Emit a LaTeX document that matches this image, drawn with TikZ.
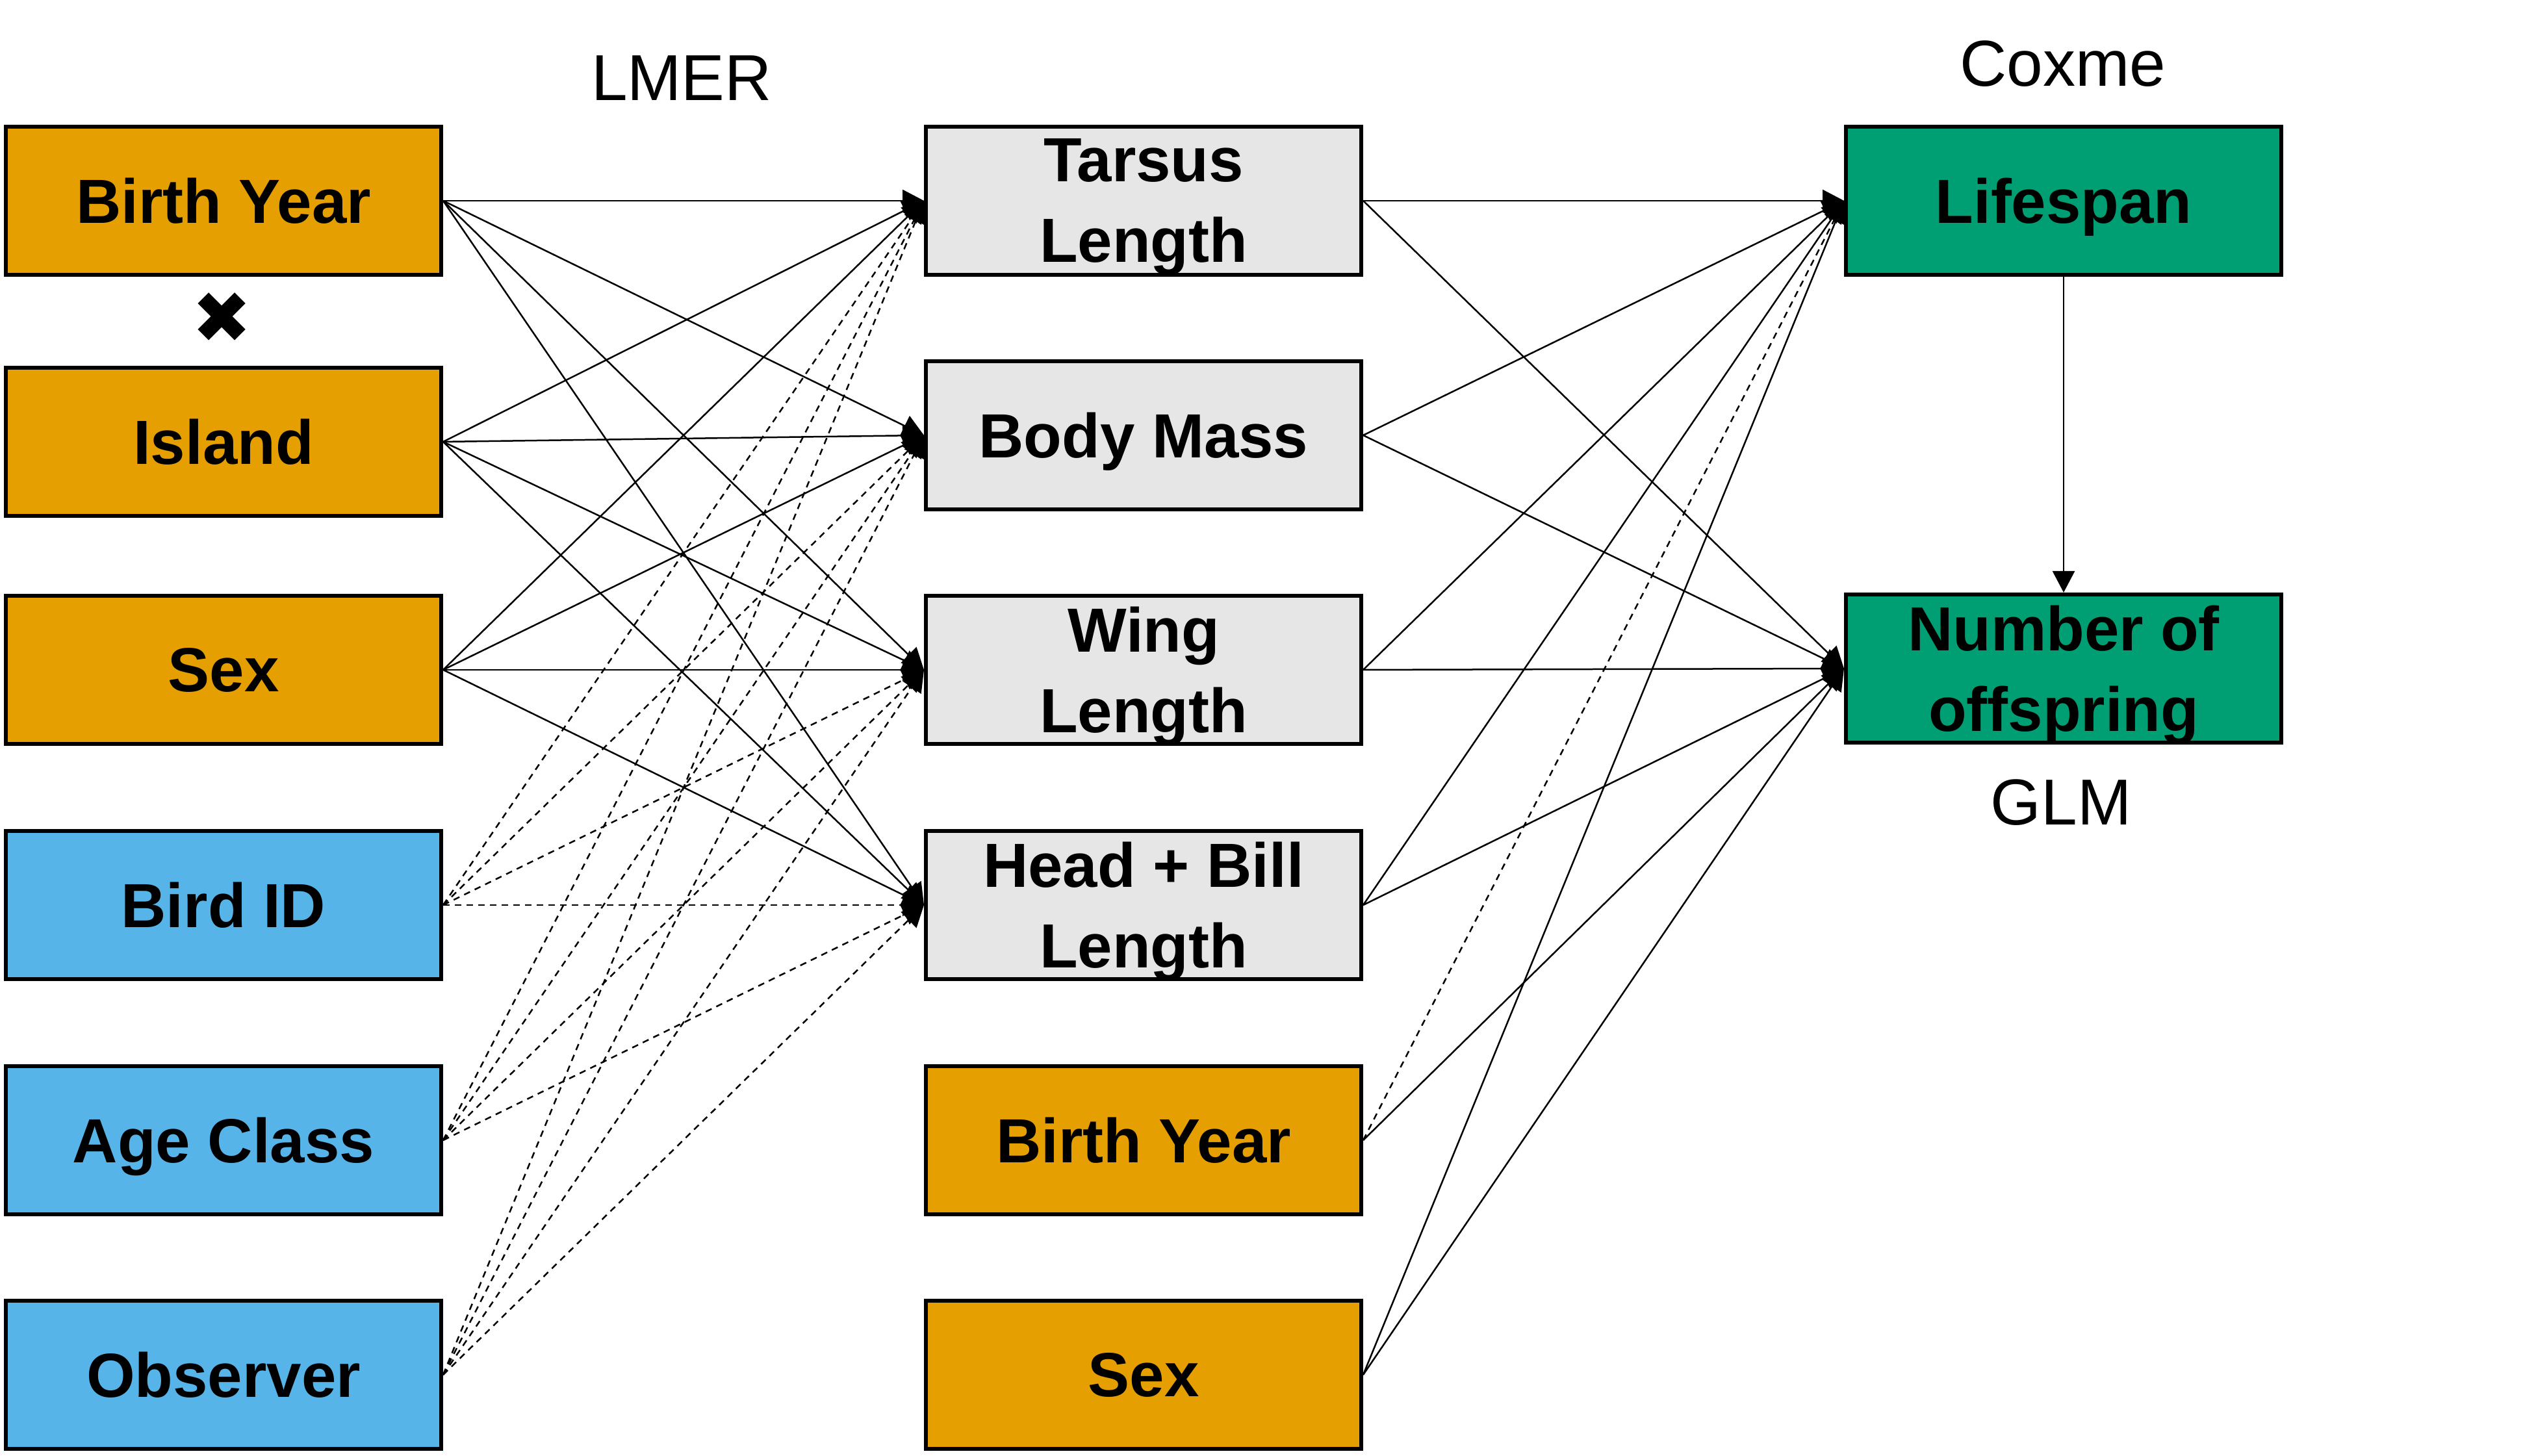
\documentclass[tikz,border=0pt]{standalone}
\usepackage{fontspec}
\setmainfont{Liberation Sans}
\newfontfamily\markfont{DejaVu Sans}
\usetikzlibrary{arrows.meta}

\begin{document}
\begin{tikzpicture}[x=1pt,y=1pt,
  box/.style={draw=drawColor,line width=0.6pt,minimum width=67pt,minimum height=22.8pt,
    inner sep=0pt,align=center,text depth=0pt,text=drawColor,
    font=\bfseries\fontsize{9.6}{12.4}\selectfont},
  model/.style={text=drawColor,anchor=base,inner sep=0pt,outer sep=0pt,
    font=\fontsize{10}{12}\selectfont},
  link/.style={draw=drawColor,line width=0.25pt,-{Triangle[length=3.3pt,width=3.4pt]}},
  randlink/.style={link,dash pattern=on 1pt off 0.8pt}]
\definecolor{drawColor}{RGB}{0,0,0}
\definecolor{fixedColor}{RGB}{230,159,0}
\definecolor{randomColor}{RGB}{86,180,233}
\definecolor{traitColor}{RGB}{230,230,230}
\definecolor{fitnessColor}{RGB}{0,158,115}
\path[use as bounding box,fill=white] (0,0) rectangle (388.30,224.10);

% left column: fixed and random effects
\node[box,fill=fixedColor] (birthyear) at ( 34.40,193.20) {Birth Year};
\node[box,fill=fixedColor] (island) at ( 34.40,156.10) {Island};
\node[box,fill=fixedColor] (sex) at ( 34.40,121.00) {Sex};
\node[box,fill=randomColor] (birdid) at ( 34.40, 84.80) {Bird ID};
\node[box,fill=randomColor] (ageclass) at ( 34.40, 48.60) {Age Class};
\node[box,fill=randomColor] (observer) at ( 34.40, 12.50) {Observer};
\node[text=drawColor,inner sep=0pt,font=\markfont\fontsize{11}{13}\selectfont] (cross) at ( 34.20,175.20) {✖};

% middle column: traits
\node[box,fill=traitColor] (tarsus) at (176.00,193.20) {Tarsus\\Length};
\node[box,fill=traitColor] (mass) at (176.00,157.10) {Body Mass};
\node[box,fill=traitColor] (wing) at (176.00,121.00) {Wing\\Length};
\node[box,fill=traitColor] (bill) at (176.00, 84.80) {Head + Bill\\Length};
\node[box,fill=fixedColor] (birthyear2) at (176.00, 48.60) {Birth Year};
\node[box,fill=fixedColor] (sex2) at (176.00, 12.50) {Sex};

% right column: fitness
\node[box,fill=fitnessColor] (lifespan) at (317.60,193.20) {Lifespan};
\node[box,fill=fitnessColor] (offspring) at (317.60,121.20) {Number of\\offspring};

\node[model] (lmer) at (104.90,208.60) {LMER};
\node[model] (coxme) at (317.50,210.80) {Coxme};
\node[model] (glm) at (317.20, 97.10) {GLM};

% LMER
\path[link] (birthyear.east) -- (tarsus.west);
\path[link] (birthyear.east) -- (mass.west);
\path[link] (birthyear.east) -- (wing.west);
\path[link] (birthyear.east) -- (bill.west);

\path[link] (island.east) -- (tarsus.west);
\path[link] (island.east) -- (mass.west);
\path[link] (island.east) -- (wing.west);
\path[link] (island.east) -- (bill.west);

\path[link] (sex.east) -- (tarsus.west);
\path[link] (sex.east) -- (mass.west);
\path[link] (sex.east) -- (wing.west);
\path[link] (sex.east) -- (bill.west);

\path[randlink] (birdid.east) -- (tarsus.west);
\path[randlink] (birdid.east) -- (mass.west);
\path[randlink] (birdid.east) -- (wing.west);
\path[randlink] (birdid.east) -- (bill.west);

\path[randlink] (ageclass.east) -- (tarsus.west);
\path[randlink] (ageclass.east) -- (mass.west);
\path[randlink] (ageclass.east) -- (wing.west);
\path[randlink] (ageclass.east) -- (bill.west);

\path[randlink] (observer.east) -- (tarsus.west);
\path[randlink] (observer.east) -- (mass.west);
\path[randlink] (observer.east) -- (wing.west);
\path[randlink] (observer.east) -- (bill.west);

% Coxme and GLM
\path[link] (tarsus.east) -- (lifespan.west);
\path[link] (tarsus.east) -- (offspring.west);
\path[link] (mass.east) -- (lifespan.west);
\path[link] (mass.east) -- (offspring.west);
\path[link] (wing.east) -- (lifespan.west);
\path[link] (wing.east) -- (offspring.west);
\path[link] (bill.east) -- (lifespan.west);
\path[link] (bill.east) -- (offspring.west);
\path[randlink] (birthyear2.east) -- (lifespan.west);
\path[link] (birthyear2.east) -- (offspring.west);
\path[link] (sex2.east) -- (lifespan.west);
\path[link] (sex2.east) -- (offspring.west);

\path[link] (lifespan.south) -- (offspring.north);
\end{tikzpicture}
\end{document}
